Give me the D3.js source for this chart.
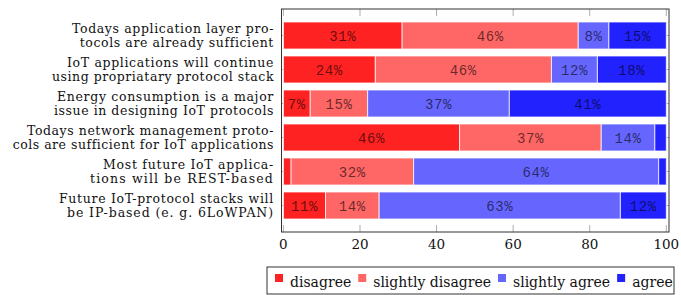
<!DOCTYPE html>
<html><head><meta charset="utf-8">
<script src="https://cdn.jsdelivr.net/npm/d3@7"></script>
<style>body{margin:0;background:#fff}svg{display:block}</style>
</head><body>
<svg id="c" width="681" height="295"></svg>
<script>
const categories = [
  ["Todays application layer pro-", "tocols are already sufficient"],
  ["IoT applications will continue", "using propriatary protocol stack"],
  ["Energy consumption is a major", "issue in designing IoT protocols"],
  ["Todays network management proto-", "cols are sufficient for IoT applications"],
  ["Most future IoT applica-", "tions will be REST-based"],
  ["Future IoT-protocol stacks will", "be IP-based (e. g. 6LoWPAN)"]
];
const seriesNames = ["disagree", "slightly disagree", "slightly agree", "agree"];
const disagree       = [31, 24, 7, 46, 2, 11];
const slightlyDisagree = [46, 46, 15, 37, 32, 14];
const slightlyAgree  = [8, 12, 37, 14, 64, 63];
const agree          = [15, 18, 41, 3, 2, 12];
const xTicks = [0, 20, 40, 60, 80, 100];
const colors = ["#ff2222", "#ff6666", "#6666ff", "#2222ff"];
// typeset line widths of the category labels (layout, px)
const labelLineWidths = [[202, 194], [207, 222], [217, 220], [247, 261], [171, 184], [215, 207]];

const svg = d3.select("#c");
const serif = "'DejaVu Serif', serif";
const mono = "'Liberation Mono', 'DejaVu Sans Mono', monospace";
const L = 281.5, R = 669, T = 9, B = 232;
const x = d3.scaleLinear().domain([-0.5, 100.7]).range([L, R]);
const ids = categories.map((d, i) => i);
const y = d3.scaleBand().domain(ids).range([18.5, 222.5]).paddingInner(7/34).paddingOuter(3.5/34);

const series = [disagree, slightlyDisagree, slightlyAgree, agree];
const rows = ids.map(i => {
  const r = {id: i};
  seriesNames.forEach((s, k) => r[s] = series[k][i]);
  return r;
});
const stacked = d3.stack().keys(seriesNames)(rows);

// ticks (under bars)
const tickG = svg.append("g").attr("stroke", "#999").attr("stroke-width", 0.8);
xTicks.forEach(t => {
  tickG.append("line").attr("x1", x(t)).attr("x2", x(t)).attr("y1", T).attr("y2", T + 7);
  tickG.append("line").attr("x1", x(t)).attr("x2", x(t)).attr("y1", B).attr("y2", B - 7);
});
ids.forEach(i => {
  const cy = y(i) + y.bandwidth() / 2;
  tickG.append("line").attr("x1", R).attr("x2", R - 7).attr("y1", cy).attr("y2", cy);
  tickG.append("line").attr("x1", L).attr("x2", L + 7).attr("y1", cy).attr("y2", cy);
});

// bars
stacked.forEach((s, k) => {
  const g = svg.append("g");
  g.selectAll("rect").data(s).join("rect")
    .attr("x", d => x(d[0]))
    .attr("width", d => x(d[1]) - x(d[0]))
    .attr("y", d => y(d.data.id))
    .attr("height", y.bandwidth())
    .attr("fill", colors[k])
    .attr("stroke", "rgba(255,255,255,0.75)")
    .attr("stroke-width", 1);
  g.selectAll("text").data(s.filter(d => d[1] - d[0] >= 5)).join("text")
    .attr("x", d => x((d[0] + d[1]) / 2))
    .attr("y", d => y(d.data.id) + y.bandwidth() / 2 + 1)
    .attr("text-anchor", "middle")
    .attr("dominant-baseline", "central")
    .attr("font-family", mono)
    .attr("font-size", 14)
    .attr("letter-spacing", 0.6)
    .attr("fill", "#000").attr("fill-opacity", 0.6)
    .text(d => (d[1] - d[0]) + "%");
});

// frame
svg.append("rect").attr("x", L).attr("y", T).attr("width", R - L).attr("height", B - T)
  .attr("fill", "none").attr("stroke", "#333").attr("stroke-width", 1);

// x tick labels
svg.append("g").selectAll("text").data(xTicks).join("text")
  .attr("x", d => x(d)).attr("y", 249)
  .attr("text-anchor", "middle")
  .attr("font-family", serif).attr("font-size", 13.5).attr("fill", "#111")
  .text(d => d);

// y labels (letter spacing adjusted to typeset widths)
ids.forEach(i => {
  const cy = y(i) + y.bandwidth() / 2;
  categories[i].forEach((line, j) => {
    const t = svg.append("text").attr("x", 274).attr("y", cy - 2.5 + j * 14.2)
      .attr("text-anchor", "end")
      .attr("font-family", serif).attr("font-size", 12.5).attr("fill", "#111")
      .text(line);
    const w = t.node().getComputedTextLength();
    const ls = Math.max(-0.4, Math.min(1.2, (labelLineWidths[i][j] - w) / line.length));
    t.attr("letter-spacing", ls);
  });
});

// legend
const lg = svg.append("g");
lg.append("rect").attr("x", 267).attr("y", 267).attr("width", 407).attr("height", 27)
  .attr("fill", "#fff").attr("stroke", "#333").attr("stroke-width", 1);
let lx = 275;
seriesNames.forEach((s, k) => {
  lg.append("rect").attr("x", lx).attr("y", 274).attr("width", 8).attr("height", 8).attr("fill", colors[k]);
  const t = lg.append("text").attr("x", lx + 15).attr("y", 287)
    .attr("font-family", serif).attr("font-size", 14).attr("fill", "#111").text(s);
  lx += 15 + t.node().getComputedTextLength() + 7;
});
</script>
</body></html>
